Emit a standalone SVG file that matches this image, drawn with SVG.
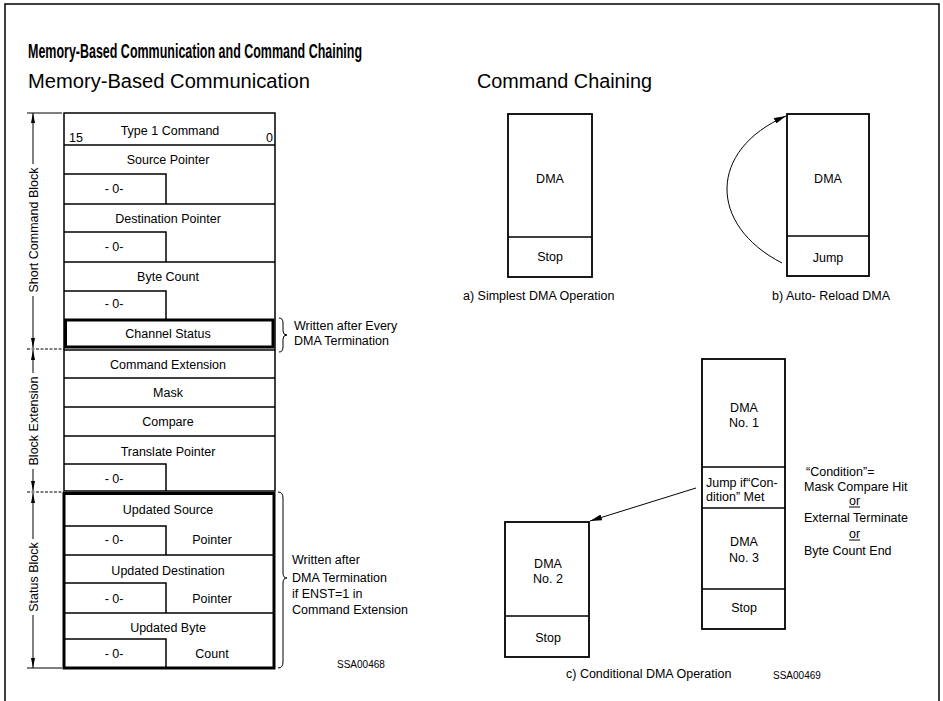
<svg xmlns="http://www.w3.org/2000/svg" width="943" height="701" viewBox="0 0 943 701">
  <style>
    text { font-family: "Liberation Sans", Arial, sans-serif; fill: #000; }
    .t { font-size: 12.5px; }
    .c { text-anchor: middle; }
    .sm { font-size: 10px; }
    .ln { fill: none; stroke: #000; stroke-width: 1.5; }
    .thk { fill: none; stroke: #000; stroke-width: 3; }
    .box { fill: #fff; stroke: #000; stroke-width: 1.8; }
    .dim { fill: none; stroke: #000; stroke-width: 1; }
  </style>
  <defs>
    <marker id="dimArrow" viewBox="0 0 10 4" refX="10" refY="2" markerWidth="10" markerHeight="4" markerUnits="userSpaceOnUse" orient="auto-start-reverse">
      <path d="M0,0 L10,2 L0,4 Z" fill="#000"/>
    </marker>
    <marker id="arrow" viewBox="0 0 12 6" refX="12" refY="3" markerWidth="12" markerHeight="6" markerUnits="userSpaceOnUse" orient="auto">
      <path d="M0,0 L12,3 L0,6 Z" fill="#000"/>
    </marker>
  </defs>

  <rect width="943" height="701" fill="#fff"/>

  <!-- page frame -->
  <path d="M5,701 V4 H939 V701" class="ln"/>

  <!-- headings -->
  <text x="28" y="58" font-size="21" font-weight="bold" textLength="334" lengthAdjust="spacingAndGlyphs">Memory-Based Communication and Command Chaining</text>
  <text x="28" y="88" font-size="20" textLength="282" lengthAdjust="spacingAndGlyphs">Memory-Based Communication</text>
  <text x="477" y="88" font-size="20" textLength="175" lengthAdjust="spacingAndGlyphs">Command Chaining</text>

  <!-- memory block: short command block -->
  <g id="short-command-block">
    <rect x="64" y="113" width="211" height="378" class="ln"/>
    <line x1="64" y1="145" x2="275" y2="145" class="ln"/>
    <line x1="64" y1="204" x2="275" y2="204" class="ln"/>
    <line x1="64" y1="262" x2="275" y2="262" class="ln"/>
    <path d="M64,174 H166 V204" class="ln"/>
    <path d="M64,232 H166 V262" class="ln"/>
    <path d="M64,291 H166 V319" class="ln"/>
    <text x="170" y="135" class="t c">Type 1 Command</text>
    <text x="69" y="142" class="t">15</text>
    <text x="266" y="142" class="t">0</text>
    <text x="168" y="164" class="t c">Source Pointer</text>
    <text x="114" y="193" class="t c">- 0-</text>
    <text x="168" y="223" class="t c">Destination Pointer</text>
    <text x="114" y="251" class="t c">- 0-</text>
    <text x="168" y="281" class="t c">Byte Count</text>
    <text x="114" y="308" class="t c">- 0-</text>
  </g>

  <g id="channel-status">
    <rect x="65.5" y="320" width="207.5" height="27" class="thk"/>
    <text x="168" y="338" class="t c">Channel Status</text>
  </g>

  <!-- memory block: block extension -->
  <g id="block-extension">
    <line x1="64" y1="350" x2="275" y2="350" class="ln"/>
    <line x1="64" y1="378" x2="275" y2="378" class="ln"/>
    <line x1="64" y1="407" x2="275" y2="407" class="ln"/>
    <line x1="64" y1="436" x2="275" y2="436" class="ln"/>
    <path d="M64,464 H166 V491" class="ln"/>
    <text x="168" y="369" class="t c">Command Extension</text>
    <text x="168" y="397" class="t c">Mask</text>
    <text x="168" y="426" class="t c">Compare</text>
    <text x="168" y="456" class="t c">Translate Pointer</text>
    <text x="114" y="483" class="t c">- 0-</text>
  </g>

  <!-- memory block: status block -->
  <g id="status-block">
    <rect x="64" y="493.5" width="210" height="174.5" class="thk"/>
    <line x1="64" y1="555" x2="274" y2="555" class="ln"/>
    <line x1="64" y1="613" x2="274" y2="613" class="ln"/>
    <path d="M64,526 H166 V555" class="ln"/>
    <path d="M64,583 H166 V613" class="ln"/>
    <path d="M64,639 H166 V668" class="ln"/>
    <text x="168" y="514" class="t c">Updated Source</text>
    <text x="114" y="544" class="t c">- 0-</text>
    <text x="212" y="544" class="t c">Pointer</text>
    <text x="168" y="575" class="t c">Updated Destination</text>
    <text x="114" y="603" class="t c">- 0-</text>
    <text x="212" y="603" class="t c">Pointer</text>
    <text x="168" y="632" class="t c">Updated Byte</text>
    <text x="114" y="658" class="t c">- 0-</text>
    <text x="212" y="658" class="t c">Count</text>
  </g>

  <!-- dimension lines along the memory block -->
  <g id="dimensions">
    <line x1="27" y1="113" x2="62" y2="113" class="dim"/>
    <line x1="27" y1="349" x2="64" y2="349" class="dim" stroke-dasharray="3,1.5"/>
    <line x1="27" y1="492" x2="64" y2="492" class="dim" stroke-dasharray="3,1.5"/>
    <line x1="27" y1="668" x2="62" y2="668" class="dim"/>
    <line x1="33" y1="113" x2="33" y2="164" class="dim" marker-start="url(#dimArrow)"/>
    <line x1="33" y1="296" x2="33" y2="348" class="dim" marker-end="url(#dimArrow)"/>
    <line x1="33" y1="350" x2="33" y2="373" class="dim" marker-start="url(#dimArrow)"/>
    <line x1="33" y1="469" x2="33" y2="491" class="dim" marker-end="url(#dimArrow)"/>
    <line x1="33" y1="493" x2="33" y2="539" class="dim" marker-start="url(#dimArrow)"/>
    <line x1="33" y1="615" x2="33" y2="668" class="dim" marker-end="url(#dimArrow)"/>
    <text transform="translate(37.5,230) rotate(-90)" class="t c">Short Command Block</text>
    <text transform="translate(37.5,421) rotate(-90)" class="t c">Block Extension</text>
    <text transform="translate(37.5,577) rotate(-90)" class="t c">Status Block</text>
  </g>

  <!-- notes on the write-back fields -->
  <g id="note-channel-status">
    <path d="M279,318 Q283,318 283,323 V331 Q283,335 287,335 Q283,335 283,339 V347 Q283,352 279,352" class="dim"/>
    <text x="294" y="330" class="t">Written after Every</text>
    <text x="294" y="345" class="t">DMA Termination</text>
  </g>
  <g id="note-status-block">
    <path d="M278,492 Q283,492 283,498 V573 Q283,578 287,578 Q283,578 283,583 V662 Q283,668 278,668" class="dim"/>
    <text x="292" y="564" class="t">Written after</text>
    <text x="292" y="582" class="t">DMA Termination</text>
    <text x="292" y="598" class="t">if  ENST=1 in</text>
    <text x="292" y="614" class="t">Command Extension</text>
  </g>
  <text x="337" y="668" class="sm">SSA00468</text>

  <!-- a) simplest DMA operation -->
  <g id="a-dma">
    <rect x="508" y="114" width="84" height="163" class="box"/>
    <line x1="508" y1="237" x2="592" y2="237" class="ln"/>
    <text x="550" y="183" class="t c">DMA</text>
    <text x="550" y="261" class="t c">Stop</text>
  </g>
  <text x="463" y="300" class="t">a) Simplest  DMA  Operation</text>

  <!-- b) auto-reload DMA -->
  <g id="b-dma">
    <rect x="787" y="114" width="82" height="162" class="box"/>
    <line x1="787" y1="236" x2="869" y2="236" class="ln"/>
    <text x="828" y="183" class="t c">DMA</text>
    <text x="828" y="262" class="t c">Jump</text>
  </g>
  <text x="772" y="300" class="t">b) Auto- Reload  DMA</text>

  <!-- c) conditional DMA operation -->
  <g id="c-chain">
    <rect x="702" y="359" width="83" height="270" class="box"/>
    <line x1="702" y1="467" x2="785" y2="467" class="ln"/>
    <line x1="702" y1="508" x2="785" y2="508" class="ln"/>
    <line x1="702" y1="589" x2="785" y2="589" class="ln"/>
    <text x="744" y="412" class="t c">DMA</text>
    <text x="744" y="427" class="t c">No. 1</text>
    <text x="706" y="487" class="t">Jump if“Con-</text>
    <text x="706" y="501" class="t">dition” Met</text>
    <text x="744" y="546" class="t c">DMA</text>
    <text x="744" y="562" class="t c">No. 3</text>
    <text x="744" y="612" class="t c">Stop</text>
  </g>
  <g id="c-dma2">
    <rect x="505" y="522" width="84" height="135" class="box"/>
    <line x1="505" y1="616" x2="589" y2="616" class="ln"/>
    <text x="548" y="568" class="t c">DMA</text>
    <text x="548" y="583" class="t c">No. 2</text>
    <text x="548" y="642" class="t c">Stop</text>
  </g>
  <g id="condition-note">
    <text x="806" y="476" class="t">“Condition”=</text>
    <text x="804" y="491" class="t">Mask Compare Hit</text>
    <text x="849" y="505" class="t">or</text>
    <line x1="849" y1="507" x2="860" y2="507" stroke="#000" stroke-width="1"/>
    <text x="804" y="522" class="t">External Terminate</text>
    <text x="849" y="538" class="t">or</text>
    <line x1="849" y1="540" x2="860" y2="540" stroke="#000" stroke-width="1"/>
    <text x="804" y="555" class="t">Byte Count End</text>
  </g>
  <text x="566" y="678" class="t">c) Conditional  DMA  Operation</text>
  <text x="773" y="679" class="sm">SSA00469</text>

  <!-- connectors -->
  <g id="connectors">
    <path d="M782,263 C708,225 708,150 786,116" class="dim" stroke-width="1.3" marker-end="url(#arrow)"/>
    <path d="M696,488 L590,521" class="dim" stroke-width="1.3" marker-end="url(#arrow)"/>
  </g>
</svg>
